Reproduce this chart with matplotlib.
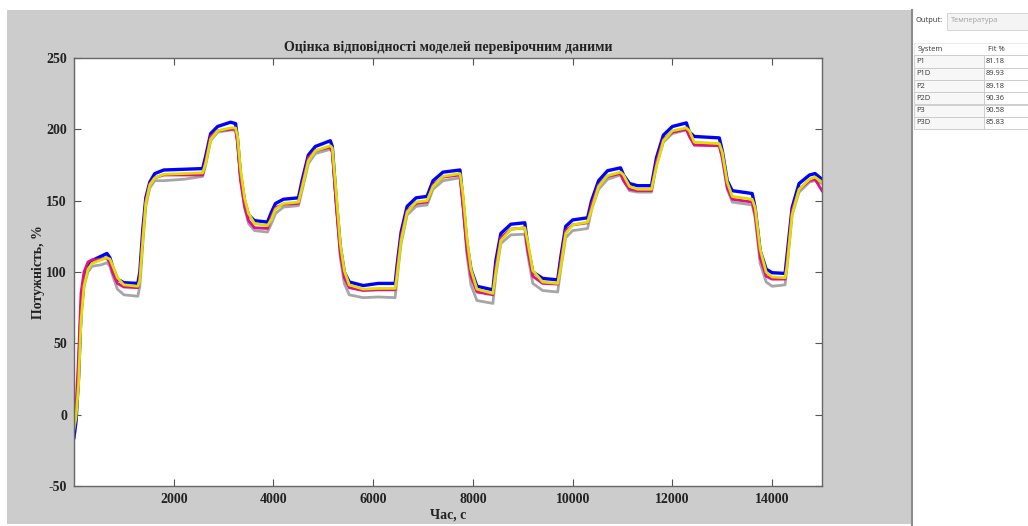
import matplotlib.pyplot as plt
from matplotlib.patches import Rectangle

plt.rcParams['axes.unicode_minus'] = False

# time grid, s
t = [0, 40, 90, 140, 200, 280, 360, 540, 660, 720, 780, 870, 1000, 1280, 1320, 1380,
     1440, 1520, 1620, 1800, 2200, 2580, 2640, 2740, 2880, 3140, 3240, 3280, 3340, 3420,
     3500, 3620, 3880, 3960, 4040, 4200, 4500, 4580, 4700, 4840, 5140, 5180, 5260, 5340,
     5420, 5520, 5800, 6100, 6440, 6480, 6560, 6680, 6860, 7080, 7200, 7400, 7740, 7800,
     7880, 7960, 8080, 8400, 8460, 8560, 8760, 9040, 9100, 9200, 9400, 9700, 9760, 9860,
     10000, 10300, 10380, 10520, 10700, 10960, 11020, 11140, 11300, 11580, 11680, 11820,
     12000, 12280, 12340, 12440, 12940, 13000, 13100, 13200, 13600, 13660, 13760, 13880,
     14000, 14260, 14300, 14400, 14540, 14750, 14860, 15000]

blue = [-16, -5, 25, 72, 94, 104, 108, 111, 113, 110, 103, 95, 92.5, 92, 100, 130,
        152, 163, 169, 171.5, 172, 172.5, 181, 197, 202, 205, 204, 193, 168, 150,
        140, 136, 135, 142, 148, 151, 152, 165, 182, 188, 192, 188, 150, 118,
        100, 93, 90.5, 92, 92, 105, 128, 146, 152, 153, 164, 170, 171.5, 150,
        120, 102, 90, 87.5, 108, 127, 133.5, 134.5, 118, 100, 95.5, 94.5, 110, 132,
        136.5, 138, 150, 164, 171, 173, 168, 162, 160.5, 160.5, 180, 196,
        202, 204.5, 198, 195, 194, 185, 164, 157, 155, 145, 115, 102,
        99.5, 99, 112, 145, 162, 168, 169, 165]

yellow = [-10, -2, 20, 65, 90, 102, 106, 108.5, 110, 109, 104, 96, 91, 90, 94, 122,
          148, 161, 166, 168.5, 169, 169.5, 176, 193, 199, 201, 201, 195, 172, 152,
          141, 134, 132.5, 137, 144, 148, 149, 160, 178, 185, 188.5, 187, 155, 120,
          101, 91, 88, 88.5, 88.5, 98, 122, 142, 149, 150, 160, 167, 169, 155,
          124, 102, 88, 85, 100, 122, 130, 131, 121, 101, 93, 92, 103, 127,
          133, 135, 144, 160, 167.5, 170, 168, 160, 158, 158, 174, 192,
          199, 201, 199, 191, 190, 184, 163, 153, 151, 145, 116, 100,
          96.5, 96, 104, 140, 158, 165, 166.5, 163]

magenta = [-8, 5, 40, 85, 100, 107, 108.5, 109, 110, 106, 99, 92, 89.5, 89, 96, 126,
           150, 162, 166, 168, 168, 168, 178, 195, 199, 200, 200, 190, 164, 146,
           136, 131, 130.5, 139, 145, 147.5, 148, 162, 180, 185, 187.5, 184, 146, 113,
           96, 89, 87, 87.5, 87.5, 102, 125, 143, 148, 149, 161, 166.5, 168, 146,
           115, 97, 86, 84, 104, 124, 130, 131, 115, 97, 92, 91.5, 107, 129,
           133, 134.5, 147, 161, 167, 169, 164, 158, 157, 157, 177, 193,
           198, 200, 195, 189, 188.5, 180, 159, 151, 149, 140, 110, 97,
           95, 95, 108, 143, 158, 164, 165, 157]

gray = [-8, 0, 22, 68, 90, 100, 104, 105, 106.5, 104, 97, 88, 84, 83, 90, 120,
        146, 159, 164, 164, 165, 167, 175, 192, 198, 199.5, 199.5, 192, 166, 145,
        134, 129, 128, 134, 141, 145.5, 146.5, 158, 176, 183, 186, 184, 148, 110,
        92, 84, 82, 82.5, 82, 96, 120, 140, 146, 147, 158, 164, 166, 148,
        112, 91, 80, 78, 98, 120, 126, 126.5, 112, 92, 87, 86, 102, 124,
        129, 130.5, 144, 158, 165, 168, 164, 157, 156, 156, 175, 191,
        197, 199.5, 196, 189, 188.5, 180, 158, 149, 147, 138, 106, 93,
        90, 91, 104, 140, 156, 163, 164, 162]

systems = ['P1', 'P1D', 'P2', 'P2D', 'P3', 'P3D']
fits = ['81.18', '89.93', '89.18', '90.36', '90.58', '85.83']

xticks = [2000, 4000, 6000, 8000, 10000, 12000, 14000]
yticks = [-50, 0, 50, 100, 150, 200, 250]

W, H = 1028, 526
fig = plt.figure(figsize=(W / 100, H / 100), dpi=100, facecolor='white')

# background layer in pixel coordinates
bg = fig.add_axes([0, 0, 1, 1], zorder=-1)
bg.set_xlim(0, W)
bg.set_ylim(H, 0)
bg.axis('off')
bg.add_patch(Rectangle((7, 10), 905, 514, facecolor='#cccccc', edgecolor='none'))
bg.plot([912, 912], [10, H], color='#8c8c8c', lw=1.5)

# right panel with fit table
ui = dict(family='Open Sans', fontsize=5.4, color='#333333', va='center')
bg.text(916, 21, 'Output:', **ui)
bg.add_patch(Rectangle((947, 13), 90, 17, facecolor='#f4f4f4', edgecolor='#d0d0d0', lw=0.6))
bg.text(951, 21, 'Температура', family='Open Sans', fontsize=5.4, color='#a0a0a0', va='center')
row_h = 12.3
y0 = 43
bg.add_patch(Rectangle((914, y0), 114, row_h, facecolor='white', edgecolor='#e0e0e0', lw=0.5))
bg.text(918, y0 + row_h / 2, 'System', **ui)
bg.text(988, y0 + row_h / 2, 'Fit %', **ui)
for i, (s, f) in enumerate(zip(systems, fits)):
    y = y0 + row_h * (i + 1)
    bg.add_patch(Rectangle((914, y), 70, row_h, facecolor='#f7f7f7', edgecolor='#c8c8c8', lw=0.6))
    bg.add_patch(Rectangle((984, y), 44, row_h, facecolor='white', edgecolor='#c8c8c8', lw=0.6))
    bg.text(916, y + row_h / 2, s, **ui)
    bg.text(986, y + row_h / 2, f, **ui)

# main axes
ax = fig.add_axes([74 / W, 1 - 486 / H, (822 - 74) / W, (486 - 58) / H])
ax.set_facecolor('white')
ax.plot(t, gray, color='#a6a6a6', lw=2.0)
ax.plot(t, blue, color='#0000ff', lw=2.4)
ax.plot(t, magenta, color='#e0108a', lw=2.0)
ax.plot(t, yellow, color='#dede00', lw=2.0)

ax.set_xlim(0, 15000)
ax.set_ylim(-50, 250)
ax.set_xticks(xticks)
ax.set_yticks(yticks)
ax.tick_params(direction='in', length=5, width=0.8, color='#555555',
               top=True, right=True, pad=5)
for lab in ax.get_xticklabels() + ax.get_yticklabels():
    lab.set_family('Liberation Serif')
    lab.set_fontweight('bold')
    lab.set_fontsize(10)
    lab.set_color('#222222')
for sp in ax.spines.values():
    sp.set_color('#666666')
    sp.set_linewidth(1.0)

serif = dict(family='Liberation Serif', fontweight='bold', fontsize=10, color='#222222')
ax.set_title('Оцінка відповідності моделей перевірочним даними', pad=5, **serif)
ax.set_xlabel('Час, с', labelpad=2, **serif)
ax.set_ylabel('Потужність, %', labelpad=1, **serif)

fig.savefig('out.png', dpi=100, facecolor='white')
